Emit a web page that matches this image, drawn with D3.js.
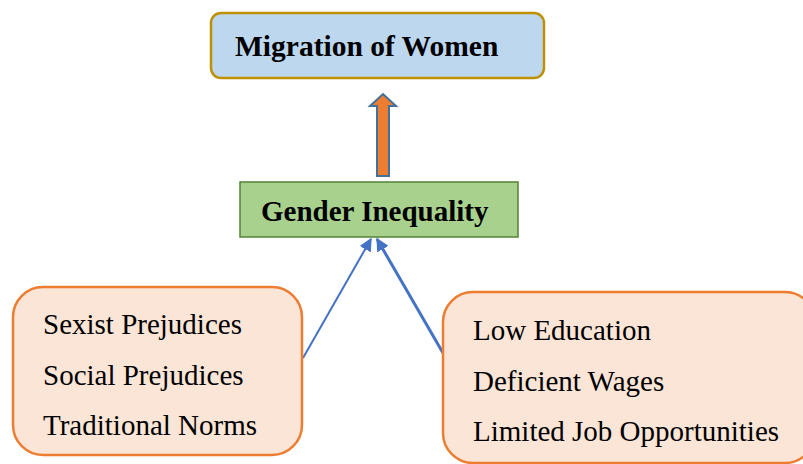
<!DOCTYPE html>
<html>
<head>
<meta charset="utf-8">
<script src="https://cdn.jsdelivr.net/npm/d3@7"></script>
<style>
  body { margin: 0; background: #fff; }
  text { font-family: "Liberation Serif", "Times New Roman", serif; }
</style>
</head>
<body>
<svg></svg>
<script>
// diagram text
var topLabel = "Migration of Women"
var midLabel = "Gender Inequality"
var leftItems = ["Sexist Prejudices", "Social Prejudices", "Traditional Norms"]
var rightItems = ["Low Education", "Deficient Wages", "Limited Job Opportunities"]

var svg = d3.select('svg')
  .attr('width', 803)
  .attr('height', 464)

var defs = svg.append('defs')
defs.append('marker')
  .attr('id', 'blueHead')
  .attr('viewBox', '0 0 10 10')
  .attr('refX', 9)
  .attr('refY', 5)
  .attr('markerUnits', 'userSpaceOnUse')
  .attr('markerWidth', 13)
  .attr('markerHeight', 13)
  .attr('orient', 'auto')
  .append('path')
  .attr('d', 'M0,0 L10,5 L0,10 Z')
  .attr('fill', '#4472C4')

// 顶部方框
svg.append('rect')
  .attr('x', 211).attr('y', 13)
  .attr('width', 333).attr('height', 65)
  .attr('rx', 10)
  .attr('fill', '#BDD7EE')
  .attr('stroke', '#BF9000')
  .attr('stroke-width', 2.5)
svg.append('text')
  .attr('x', 235).attr('y', 56)
  .attr('font-size', 29.5)
  .attr('font-weight', 'bold')
  .text(topLabel)

// 橙色箭头
svg.append('path')
  .attr('d', 'M377,176 L377,106 L370,106 L383,94 L396,106 L389,106 L389,176 Z')
  .attr('fill', '#ED7D31')
  .attr('stroke', '#41719C')
  .attr('stroke-width', 2)

// 中间方框
svg.append('rect')
  .attr('x', 240).attr('y', 182)
  .attr('width', 278).attr('height', 55)
  .attr('fill', '#A9D18E')
  .attr('stroke', '#548235')
  .attr('stroke-width', 1.5)
svg.append('text')
  .attr('x', 261).attr('y', 221)
  .attr('font-size', 29)
  .attr('font-weight', 'bold')
  .text(midLabel)

// 蓝色箭头
svg.append('line')
  .attr('x1', 303).attr('y1', 358)
  .attr('x2', 371).attr('y2', 239)
  .attr('stroke', '#4472C4')
  .attr('stroke-width', 2)
  .attr('marker-end', 'url(#blueHead)')
svg.append('line')
  .attr('x1', 443).attr('y1', 353)
  .attr('x2', 377).attr('y2', 239)
  .attr('stroke', '#4472C4')
  .attr('stroke-width', 3)
  .attr('marker-end', 'url(#blueHead)')

// 左下方框
svg.append('rect')
  .attr('x', 13).attr('y', 287)
  .attr('width', 289).attr('height', 168)
  .attr('rx', 30)
  .attr('fill', '#FBE5D6')
  .attr('stroke', '#ED7D31')
  .attr('stroke-width', 2.5)
svg.selectAll('text.left')
  .data(leftItems)
  .enter()
  .append('text')
  .attr('class', 'left')
  .attr('x', 43)
  .attr('y', (d, i) => 334 + i * 50.5)
  .attr('font-size', 29)
  .text(d => d)

// 右下方框
svg.append('rect')
  .attr('x', 443).attr('y', 292)
  .attr('width', 372).attr('height', 171)
  .attr('rx', 30)
  .attr('fill', '#FBE5D6')
  .attr('stroke', '#ED7D31')
  .attr('stroke-width', 2.5)
svg.selectAll('text.right')
  .data(rightItems)
  .enter()
  .append('text')
  .attr('class', 'right')
  .attr('x', 473)
  .attr('y', (d, i) => 340 + i * 50.5)
  .attr('font-size', 29)
  .text(d => d)
</script>
</body>
</html>
